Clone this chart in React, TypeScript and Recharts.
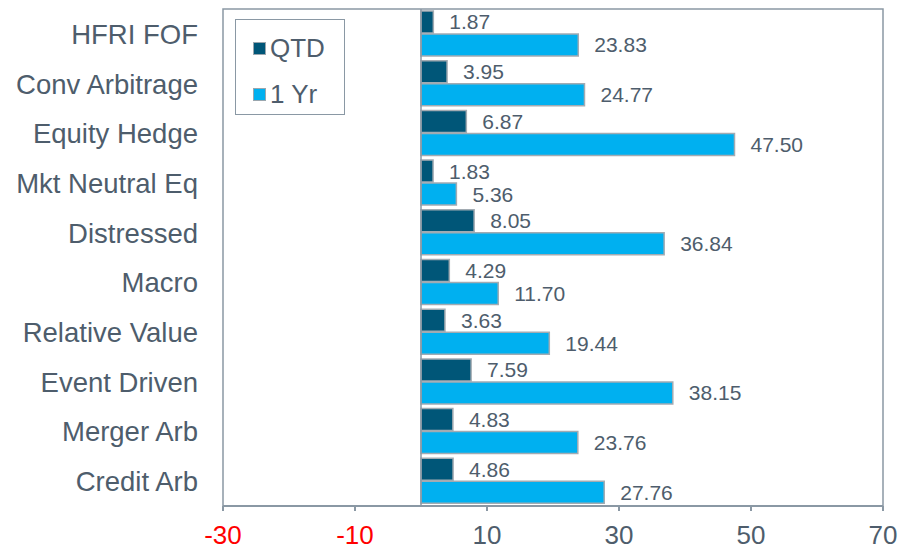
import React from 'react';
import { BarChart, Bar, XAxis, YAxis, LabelList, ReferenceLine, ReferenceArea } from 'recharts';

const categories = [
  'HFRI FOF',
  'Conv Arbitrage',
  'Equity Hedge',
  'Mkt Neutral Eq',
  'Distressed',
  'Macro',
  'Relative Value',
  'Event Driven',
  'Merger Arb',
  'Credit Arb',
];
const qtd = [1.87, 3.95, 6.87, 1.83, 8.05, 4.29, 3.63, 7.59, 4.83, 4.86];
const oneYr = [23.83, 24.77, 47.5, 5.36, 36.84, 11.7, 19.44, 38.15, 23.76, 27.76];
const xTicks = [-30, -10, 10, 30, 50, 70];
const seriesNames = ['QTD', '1 Yr'];

const data = categories.map((name, i) => ({ name, qtd: qtd[i], oneYr: oneYr[i] }));

const FONT = '"Liberation Sans", Arial, sans-serif';
const TEXT = '#4e5d6c';
const FRAME = '#8a98a4';
const DARK = '#005678';
const LIGHT = '#00b0f0';

const XTick = (props: any) => {
  const { x, y, payload } = props;
  const neg = payload.value < 0;
  return (
    <text x={x} y={y + 31} textAnchor="middle" fill={neg ? '#ff0000' : TEXT} fontSize={26} fontFamily={FONT}>
      {payload.value}
    </text>
  );
};

const YTick = (props: any) => {
  const { x, y, payload } = props;
  return (
    <text x={x} y={y + 10} textAnchor="end" fill={TEXT} fontSize={27.5} fontFamily={FONT}>
      {payload.value}
    </text>
  );
};

const LegendBox = () => (
  <div
    style={{
      position: 'absolute',
      left: 235,
      top: 19,
      width: 110,
      height: 96,
      border: `1.5px solid ${FRAME}`,
      background: '#fff',
      boxSizing: 'border-box',
      fontFamily: FONT,
      fontSize: 26,
      color: TEXT,
      paddingLeft: 17,
      paddingTop: 5,
    }}
  >
    {seriesNames.map((label, i) => (
      <div key={label} style={{ display: 'flex', alignItems: 'center', height: 46 }}>
        <span
          style={{
            display: 'inline-block',
            width: 11,
            height: 11,
            background: i === 0 ? DARK : LIGHT,
            border: '1.5px solid #9aa6ae',
            marginRight: 4,
          }}
        />
        <span>{label}</span>
      </div>
    ))}
  </div>
);

const fmt = (v: any) => Number(v).toFixed(2);

export default function App() {
  return (
    <div style={{ position: 'absolute', left: 0, top: 0, width: 899, height: 551, background: '#fff' }}>
      <BarChart
        width={899}
        height={551}
        data={data}
        layout="vertical"
        margin={{ top: 9, right: 16, left: 0, bottom: 0 }}
        barCategoryGap={2}
        barGap={1}
      >
        <XAxis
          type="number"
          domain={[-30, 70]}
          ticks={xTicks}
          height={45}
          axisLine={{ stroke: FRAME, strokeWidth: 2 }}
          tickLine={{ stroke: FRAME, strokeWidth: 2 }}
          tickSize={5}
          tick={<XTick />}
          allowDataOverflow
        />
        <YAxis
          type="category"
          dataKey="name"
          width={223}
          axisLine={false}
          tickLine={false}
          tick={<YTick />}
          tickMargin={19}
        />
        <ReferenceArea x1={-30} x2={70} fill="none" stroke={FRAME} strokeWidth={1.5} ifOverflow="visible" />
        <ReferenceLine x={0} stroke={FRAME} strokeWidth={1.5} />
        <Bar dataKey="qtd" name={seriesNames[0]} fill={DARK} stroke="#a2abb2" strokeWidth={1.5} isAnimationActive={false}>
          <LabelList dataKey="qtd" position="right" offset={16} formatter={fmt} fill={TEXT} fontSize={21} fontFamily={FONT} />
        </Bar>
        <Bar dataKey="oneYr" name={seriesNames[1]} fill={LIGHT} stroke="#a2abb2" strokeWidth={1.5} isAnimationActive={false}>
          <LabelList dataKey="oneYr" position="right" offset={16} formatter={fmt} fill={TEXT} fontSize={21} fontFamily={FONT} />
        </Bar>
      </BarChart>
      <LegendBox />
    </div>
  );
}
